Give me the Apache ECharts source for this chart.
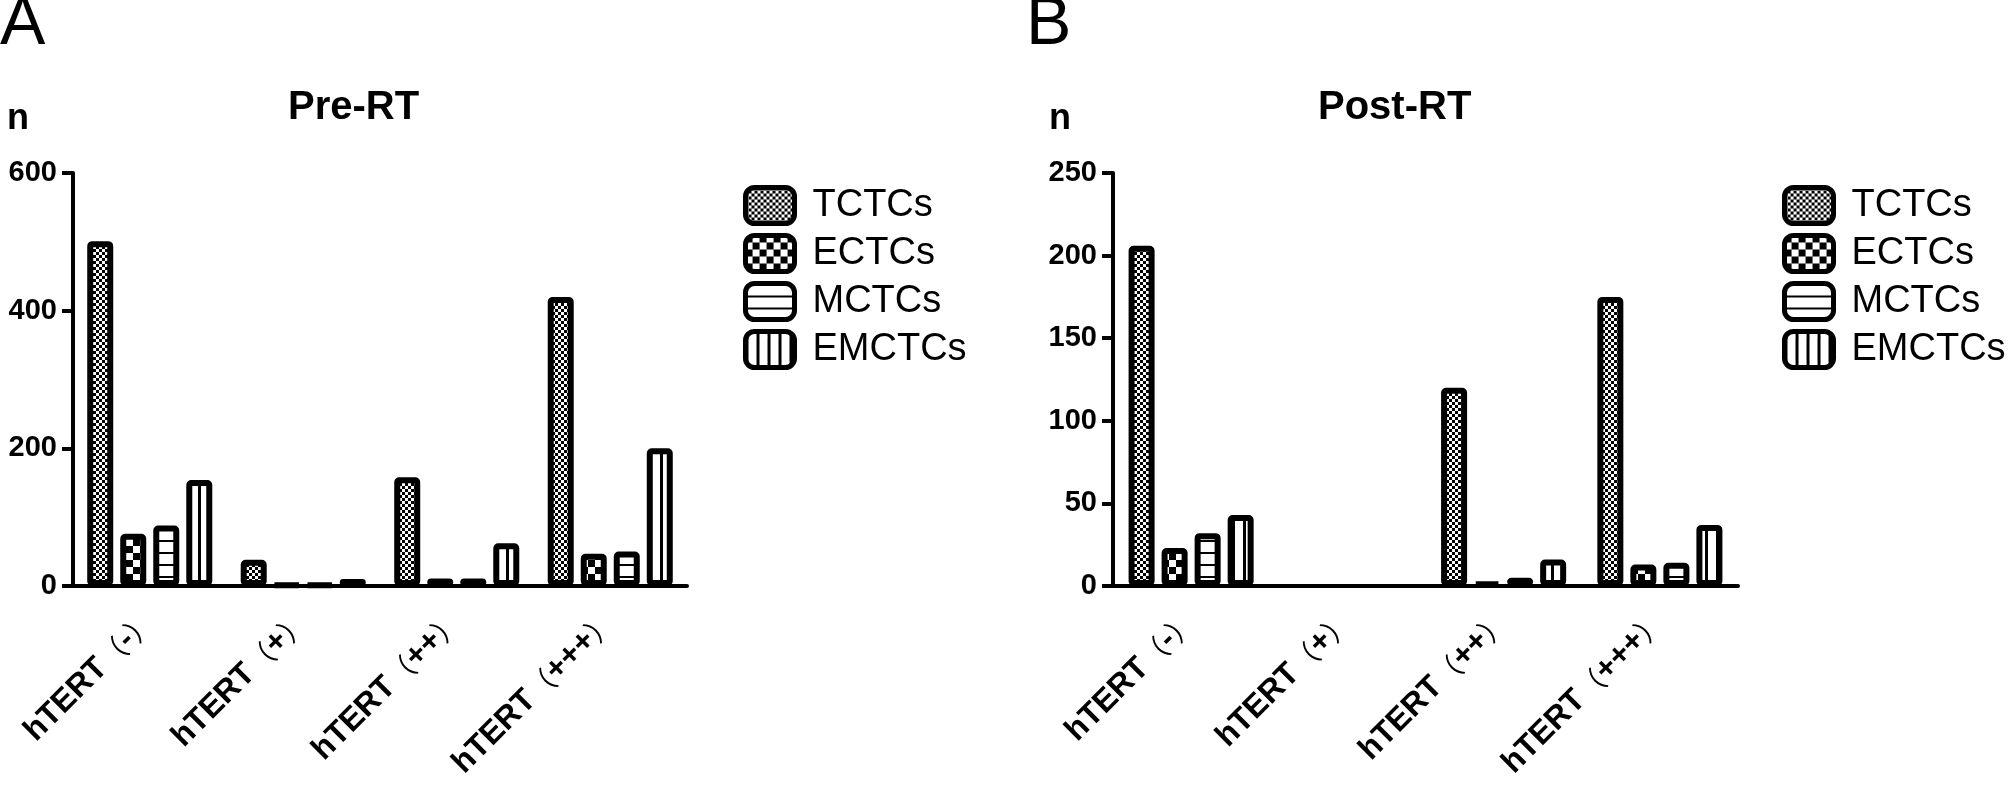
<!DOCTYPE html>
<html>
<head>
<meta charset="utf-8">
<script src="https://cdn.jsdelivr.net/npm/echarts@6/dist/echarts.min.js"></script>
<style>html,body{margin:0;padding:0;background:#fff}#c{width:2008px;height:785px}</style>
</head>
<body>
<div id="c"></div>
<script>
const categories = ['hTERT（-）', 'hTERT（+）', 'hTERT（++）', 'hTERT（+++）'];
const seriesNames = ['TCTCs', 'ECTCs', 'MCTCs', 'EMCTCs'];
const preTCTCs = [501, 38, 158, 420];
const preECTCs = [76, 2, 11, 47];
const preMCTCs = [88, 2, 11, 50];
const preEMCTCs = [154, 10, 62, 200];
const postTCTCs = [206, 0, 120, 175];
const postECTCs = [23, 0, 2, 13];
const postMCTCs = [32, 0, 5, 14];
const postEMCTCs = [43, 0, 16, 37];
const preAxis = { max: 600, interval: 200 };
const postAxis = { max: 250, interval: 50 };

function makePattern(kind) {
  const c = document.createElement('canvas');
  let ctx;
  if (kind === 'TCTCs') {
    c.width = 6; c.height = 6; ctx = c.getContext('2d');
    ctx.fillStyle = '#fff'; ctx.fillRect(0, 0, 6, 6);
    ctx.fillStyle = '#000'; ctx.fillRect(0, 0, 3, 3); ctx.fillRect(3, 3, 3, 3);
  } else if (kind === 'ECTCs') {
    c.width = 14; c.height = 14; ctx = c.getContext('2d');
    ctx.fillStyle = '#fff'; ctx.fillRect(0, 0, 14, 14);
    ctx.fillStyle = '#000'; ctx.fillRect(0, 0, 7, 7); ctx.fillRect(7, 7, 7, 7);
  } else if (kind === 'MCTCs') {
    c.width = 4; c.height = 12; ctx = c.getContext('2d');
    ctx.fillStyle = '#fff'; ctx.fillRect(0, 0, 4, 12);
    ctx.fillStyle = '#000'; ctx.fillRect(0, 0, 4, 2);
  } else {
    c.width = 11; c.height = 4; ctx = c.getContext('2d');
    ctx.fillStyle = '#fff'; ctx.fillRect(0, 0, 11, 4);
    ctx.fillStyle = '#000'; ctx.fillRect(0, 0, 3, 4);
  }
  return { image: c, repeat: 'repeat' };
}

const patterns = {};
seriesNames.forEach(n => patterns[n] = makePattern(n));

const FONT = "'Liberation Sans', Arial, 'Noto Sans CJK SC', sans-serif";

function labelFmt(v) {
  const m = v.match(/^(.*?)（(.*)）$/);
  if (!m) return '{b|' + v + '}';
  return '{b|' + m[1] + '}{p|（}{b|' + m[2] + '}{p|）}';
}

function xAxisDef(idx) {
  return {
    type: 'category', gridIndex: idx, data: categories,
    axisLine: { lineStyle: { color: '#000', width: 4 } },
    axisTick: { alignWithLabel: true, length: 12, lineStyle: { color: '#000', width: 3 } },
    axisLabel: {
      rotate: 45, margin: 30, interval: 0, formatter: labelFmt,
      rich: {
        b: { fontFamily: FONT, fontWeight: 'bold', fontSize: 32, color: '#000' },
        p: { fontFamily: "'Noto Sans CJK SC', sans-serif", fontWeight: 'normal', fontSize: 28, color: '#000' }
      }
    },
    splitLine: { show: false }
  };
}
function yAxisDef(idx, ax) {
  return {
    type: 'value', gridIndex: idx, min: 0, max: ax.max, interval: ax.interval,
    axisLine: { show: true, lineStyle: { color: '#000', width: 4 } },
    axisTick: { show: true, length: 11, lineStyle: { color: '#000', width: 4 } },
    axisLabel: { margin: 16, fontFamily: FONT, fontWeight: 'bold', fontSize: 29, color: '#000' },
    splitLine: { show: false }
  };
}

const preData = { TCTCs: preTCTCs, ECTCs: preECTCs, MCTCs: preMCTCs, EMCTCs: preEMCTCs };
const postData = { TCTCs: postTCTCs, ECTCs: postECTCs, MCTCs: postMCTCs, EMCTCs: postEMCTCs };

const series = [];
[preData, postData].forEach((d, gi) => {
  seriesNames.forEach(n => {
    series.push({
      type: 'bar', name: n, xAxisIndex: gi, yAxisIndex: gi,
      data: d[n].map(v => v === 0 ? { value: 0, itemStyle: { borderWidth: 0 } } : v),
      barWidth: 26, barGap: '27%',
      itemStyle: { color: patterns[n], borderColor: '#000', borderWidth: 6, borderRadius: 2 },
      emphasis: { disabled: true },
      animation: false
    });
  });
});

function legendDef(left) {
  return {
    orient: 'vertical', left: left, top: 180, data: seriesNames,
    icon: 'roundRect', itemWidth: 49, itemHeight: 36, itemGap: 7,
    itemStyle: { borderWidth: 5, borderColor: '#000' },
    textStyle: { fontFamily: FONT, fontSize: 38, color: '#000', padding: [0, 0, 0, 13] },
    selectedMode: false
  };
}

function txt(x, y, text, size, bold) {
  return {
    type: 'text', x: x, y: y,
    style: { text: text, font: (bold ? 'bold ' : '') + size + 'px ' + FONT, fill: '#000', verticalAlign: 'middle', textAlign: 'left' }
  };
}

const chart = echarts.init(document.getElementById('c'), null, { renderer: 'canvas' });
chart.setOption({
  animation: false,
  backgroundColor: '#fff',
  grid: [
    { left: 73, top: 173, width: 614, height: 413 },
    { left: 1113, top: 173, width: 625, height: 413 }
  ],
  xAxis: [xAxisDef(0), xAxisDef(1)],
  yAxis: [yAxisDef(0, preAxis), yAxisDef(1, postAxis)],
  legend: [legendDef(738), legendDef(1777)],
  series: series,
  graphic: [
    txt(0, 25, 'A', 68, false),
    txt(1026, 25, 'B', 68, false),
    txt(7, 119, 'n', 36, true),
    txt(1049, 119, 'n', 36, true),
    txt(288, 108, 'Pre-RT', 40, true),
    txt(1318, 108, 'Post-RT', 40, true)
  ]
});
</script>
</body>
</html>
